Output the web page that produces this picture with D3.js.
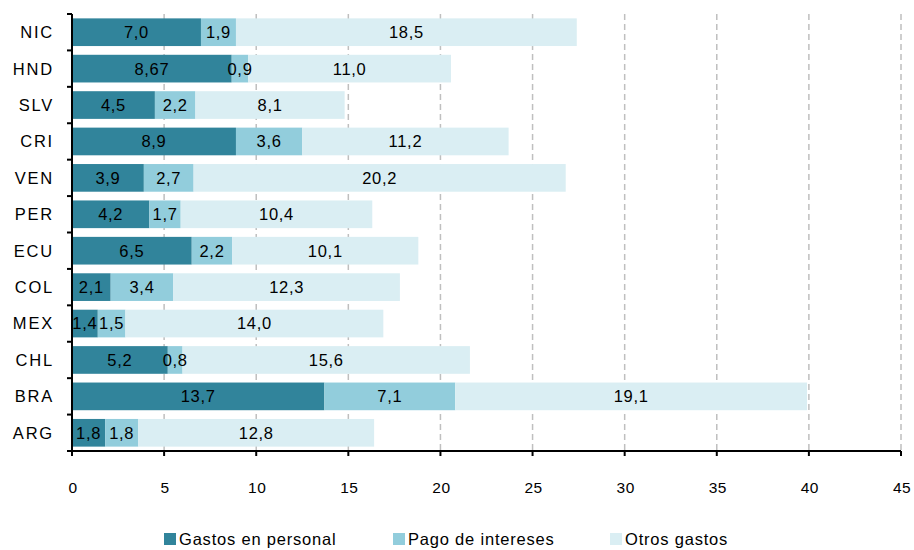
<!DOCTYPE html>
<html><head><meta charset="utf-8">
<script src="https://cdn.jsdelivr.net/npm/d3@7"></script>
<style>body{margin:0;background:#fff}svg{display:block;font-family:"Liberation Sans",Arial,sans-serif}</style>
</head><body><svg id="c" width="914" height="550"></svg>
<script>
const categories = ["NIC","HND","SLV","CRI","VEN","PER","ECU","COL","MEX","CHL","BRA","ARG"];
const gastosPersonal = [7.0,8.67,4.5,8.9,3.9,4.2,6.5,2.1,1.4,5.2,13.7,1.8];
const pagoIntereses = [1.9,0.9,2.2,3.6,2.7,1.7,2.2,3.4,1.5,0.8,7.1,1.8];
const otrosGastos = [18.5,11.0,8.1,11.2,20.2,10.4,10.1,12.3,14.0,15.6,19.1,12.8];
const seriesNames = ["Gastos en personal","Pago de intereses","Otros gastos"];
const colors = ["#31849B","#92CDDC","#DAEEF3"];
const xTicks = [0,5,10,15,20,25,30,35,40,45];

const svg = d3.select("#c");
const L=72, R=901, T=14, B=451;
const x = d3.scaleLinear().domain([0,45]).range([L,R]);
const y = d3.scaleBand().domain(categories).range([T,B]).paddingInner(0.24).paddingOuter(0.12);

// grid
svg.append("g").selectAll("line").data(xTicks.filter(d=>d>0)).join("line")
  .attr("x1",d=>x(d)).attr("x2",d=>x(d)).attr("y1",T).attr("y2",B)
  .attr("stroke","#BFBFBF").attr("stroke-width",1.5).attr("stroke-dasharray","6,4");

const rows = categories.map((c,i)=>({c, vals:[gastosPersonal[i],pagoIntereses[i],otrosGastos[i]]}));
const fmt = v => (Math.abs(v*10-Math.round(v*10))>1e-6 ? v.toFixed(2) : v.toFixed(1)).replace(".",",");

const segs=[];
rows.forEach(r=>{let acc=0;r.vals.forEach((v,k)=>{segs.push({c:r.c,k,v,x0:acc,x1:acc+v});acc+=v;});});

svg.append("g").selectAll("rect").data(segs).join("rect")
  .attr("x",d=>x(d.x0)).attr("width",d=>x(d.x1)-x(d.x0))
  .attr("y",d=>y(d.c)).attr("height",y.bandwidth())
  .attr("fill",d=>colors[d.k]);

svg.append("g").selectAll("text").data(segs).join("text")
  .attr("x",d=>x((d.x0+d.x1)/2)).attr("y",d=>y(d.c)+y.bandwidth()/2)
  .attr("dy","0.36em").attr("text-anchor","middle")
  .attr("font-size",16.5).attr("letter-spacing","0.7px").attr("fill","#000")
  .text(d=>fmt(d.v));

// y axis
const ya = svg.append("g");
ya.append("line").attr("x1",L).attr("x2",L).attr("y1",T).attr("y2",B).attr("stroke","#000").attr("stroke-width",2);
const step = (B-T)/categories.length;
ya.selectAll("line.t").data(d3.range(categories.length+1)).join("line").attr("class","t")
  .attr("x1",L-5).attr("x2",L).attr("y1",i=>T+i*step).attr("y2",i=>T+i*step)
  .attr("stroke","#000").attr("stroke-width",2);
ya.selectAll("text").data(categories).join("text")
  .attr("x",L-18).attr("y",d=>y(d)+y.bandwidth()/2).attr("dy","0.36em")
  .attr("text-anchor","end").attr("font-size",16.5).attr("letter-spacing","1.8px").text(d=>d);

// x axis
const xa = svg.append("g");
xa.append("line").attr("x1",L).attr("x2",R).attr("y1",B).attr("y2",B).attr("stroke","#000").attr("stroke-width",2);
xa.selectAll("line.t").data(xTicks).join("line").attr("class","t")
  .attr("x1",d=>x(d)).attr("x2",d=>x(d)).attr("y1",B).attr("y2",B+5)
  .attr("stroke","#000").attr("stroke-width",2);
xa.selectAll("text").data(xTicks).join("text")
  .attr("x",d=>x(d)+1).attr("y",487).attr("dy","0.36em").attr("text-anchor","middle")
  .attr("font-size",15.5).attr("letter-spacing","0.5px").text(d=>d);

// legend
const legX=[164,393,610];
const lg = svg.append("g");
seriesNames.forEach((n,k)=>{
  lg.append("rect").attr("x",legX[k]).attr("y",533).attr("width",12).attr("height",12).attr("fill",colors[k]);
  lg.append("text").attr("x",legX[k]+15).attr("y",539).attr("dy","0.36em")
    .attr("font-size",16.5).attr("letter-spacing","0.8px").text(n);
});
</script></body></html>
